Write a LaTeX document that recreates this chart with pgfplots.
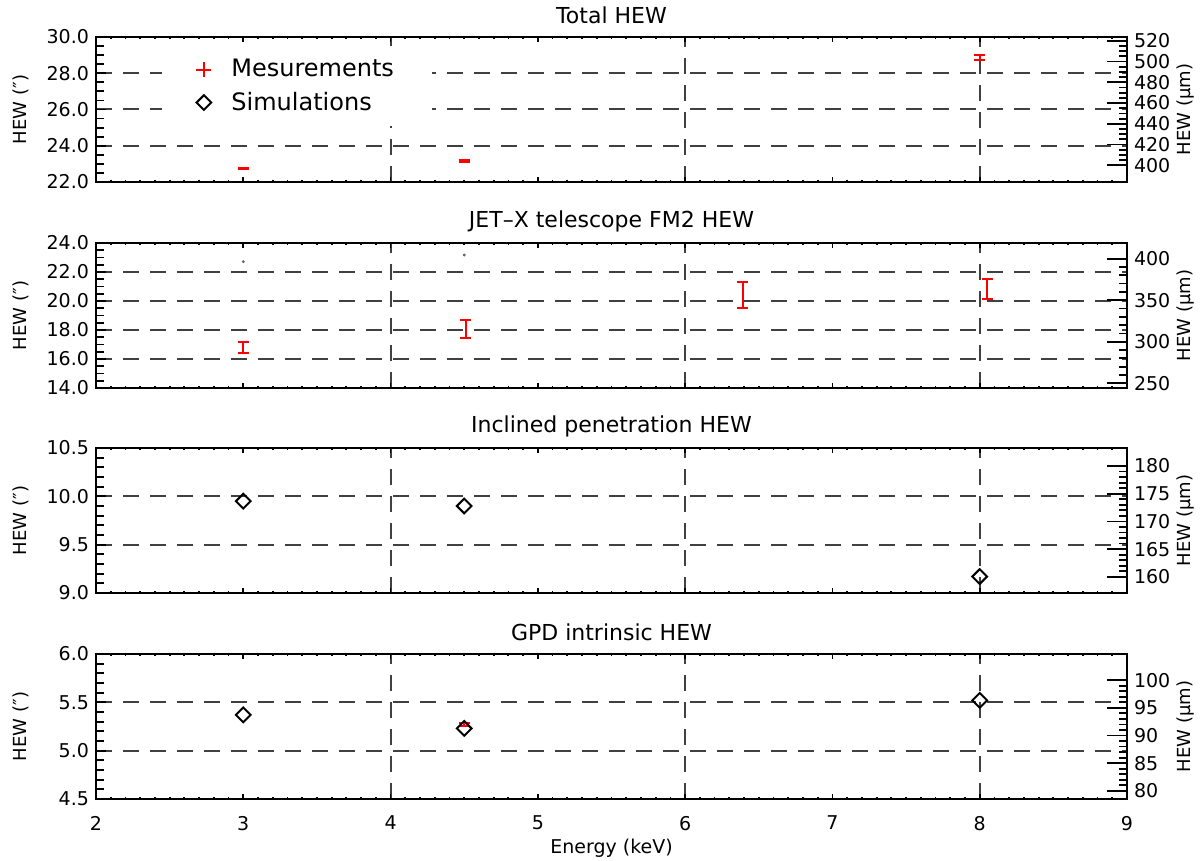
\documentclass[border=0pt]{standalone}
\usepackage{fontspec}
\setmainfont{DejaVu Sans}
\usepackage{pgfplots}
\pgfplotsset{compat=1.18}
\pgfplotsset{
 base/.style={scale only axis, width=515.5pt, height=72.5pt, xmin=2, xmax=9, anchor=south west,
   axis line style={line width=1.25pt}, tick style={line width=0.9pt, black}, tick align=inside,
   ticklabel style={font=\fontsize{9.5}{11}\selectfont}},
 mainax/.style={base, xtick=\empty, ytick pos=left, ymajorgrids=true,
   extra x ticks={4,6,8}, extra x tick labels={}, extra x tick style={grid=major, tick style={draw=none}},
   grid style={black!75, line width=1pt, dash pattern=on 8pt off 5.5pt},
   major tick length=5pt, minor tick length=4pt,
   yticklabel={\pgfmathprintnumber[assume math mode=true, fixed, fixed zerofill, precision=1]{\tick}},
   ylabel={HEW (″)},
   ylabel style={at={(axis description cs:-0.0727,0.5)}, anchor=center, font=\fontsize{9}{10}\selectfont},
   every axis title shift=0pt,
   title style={at={(axis description cs:0.5,1.1517)}, anchor=center, font=\fontsize{11}{13}\selectfont}},
 rightax/.style={base, hide x axis, ytick pos=right, major tick length=10pt, minor tick length=4pt,
   yticklabel={\pgfmathprintnumber[assume math mode=true, fixed, precision=0]{\tick}},
   ylabel={HEW (μm)},
   ylabel style={at={(axis description cs:1.0563,0.5)}, anchor=center, font=\fontsize{9}{10}\selectfont}},
 xtax/.style={base, hide y axis, ymin=0, ymax=1, xtick={2,...,9}, minor x tick num=9,
   major tick length=2.5pt, minor tick length=1.2pt},
 meas/.style={red, only marks, mark=*, mark size=0.01pt, forget plot,
   error bars/.cd, y dir=both, y explicit,
   error bar style={red, line width=1pt, solid},
   error mark options={red, line width=1pt, mark size=2.75pt, rotate=90}},
 sims/.style={black, only marks, mark=square, mark size=2.6pt, mark options={rotate=45, solid, line width=1pt}, forget plot},
}
\begin{document}
\begin{tikzpicture}
\useasboundingbox (0,0) rectangle (600.5pt,430.5pt);

% ---------------- Panel 1 : Total HEW ----------------
\begin{axis}[mainax, at={(48pt,339.5pt)}, ymin=22, ymax=30, ytick={22,24,...,30}, minor y tick num=3,
  title={Total HEW},
  legend style={at={(axis cs:2.448,29.5)}, anchor=north west, draw=none, fill=white,
    inner xsep=17pt, inner ysep=4.5pt, row sep=2pt, font=\fontsize{12}{14}\selectfont,
    /tikz/every odd column/.append style={column sep=8pt}},
  legend cell align=left]
\addplot+[meas] coordinates {(3,22.74) +- (0,0.05) (4.5,23.17) +- (0,0.05) (8,28.87) +- (0,0.14)};
\addlegendimage{only marks, mark=+, red, mark size=3.75pt, line width=1pt}
\addlegendentry{Mesurements}
\addlegendimage{only marks, mark=square, mark options={rotate=45, solid}, mark size=2.6pt, black, line width=1pt}
\addlegendentry{Simulations}
\end{axis}
\begin{axis}[xtax, at={(48pt,339.5pt)}, xticklabels={}]
\addplot[draw=none] coordinates {(2,0.5)};
\end{axis}
\begin{axis}[rightax, at={(48pt,339.5pt)}, ymin=383.97, ymax=523.59, ytick={400,420,...,520}, minor y tick num=3]
\addplot[draw=none] coordinates {(2,450)};
\end{axis}

% ---------------- Panel 2 : JET-X ----------------
\begin{axis}[mainax, at={(48pt,236.5pt)}, ymin=14, ymax=24, ytick={14,16,...,24}, minor y tick num=3,
  title={JET–X telescope FM2 HEW}]
\addplot[only marks, mark=*, mark size=0.5pt, black!60, forget plot] coordinates {(3,22.71) (4.5,23.17)};
\addplot+[meas] coordinates {(3,16.79) +- (0,0.40) (4.51,18.06) +- (0,0.63) (6.39,20.42) +- (0,0.92) (8.05,20.82) +- (0,0.68)};
\end{axis}
\begin{axis}[xtax, at={(48pt,236.5pt)}, xticklabels={}]
\addplot[draw=none] coordinates {(2,0.5)};
\end{axis}
\begin{axis}[rightax, at={(48pt,236.5pt)}, ymin=244.34, ymax=418.87, ytick={250,300,...,400}, minor y tick num=4]
\addplot[draw=none] coordinates {(2,300)};
\end{axis}

% ---------------- Panel 3 : Inclined penetration ----------------
\begin{axis}[mainax, at={(48pt,134pt)}, ymin=9, ymax=10.5, ytick={9,9.5,10,10.5}, minor y tick num=4,
  title={Inclined penetration HEW}]
\addplot+[sims] coordinates {(3,9.95) (4.5,9.90) (8,9.17)};
\end{axis}
\begin{axis}[xtax, at={(48pt,134pt)}, xticklabels={}]
\addplot[draw=none] coordinates {(2,0.5)};
\end{axis}
\begin{axis}[rightax, at={(48pt,134pt)}, ymin=157.08, ymax=183.26, ytick={160,165,...,180}, minor y tick num=4]
\addplot[draw=none] coordinates {(2,170)};
\end{axis}

% ---------------- Panel 4 : GPD intrinsic ----------------
\begin{axis}[mainax, at={(48pt,31pt)}, ymin=4.5, ymax=6, ytick={4.5,5,5.5,6}, minor y tick num=4,
  title={GPD intrinsic HEW}]
\addplot+[meas] coordinates {(4.5,5.27) +- (0,0.02)};
\addplot+[sims] coordinates {(3,5.37) (4.5,5.23) (8,5.52)};
\end{axis}
\begin{axis}[xtax, at={(48pt,31pt)},
  xticklabel={\pgfmathprintnumber[assume math mode=true]{\tick}},
  xticklabel style={yshift=-5pt},
  xlabel={Energy (keV)},
  xlabel style={at={(axis description cs:0.5,-0.338)}, anchor=center, font=\fontsize{9.5}{11}\selectfont}]
\addplot[draw=none] coordinates {(2,0.5)};
\end{axis}
\begin{axis}[rightax, at={(48pt,31pt)}, ymin=78.54, ymax=104.72, ytick={80,85,...,100}, minor y tick num=4]
\addplot[draw=none] coordinates {(2,90)};
\end{axis}
\end{tikzpicture}
\end{document}
